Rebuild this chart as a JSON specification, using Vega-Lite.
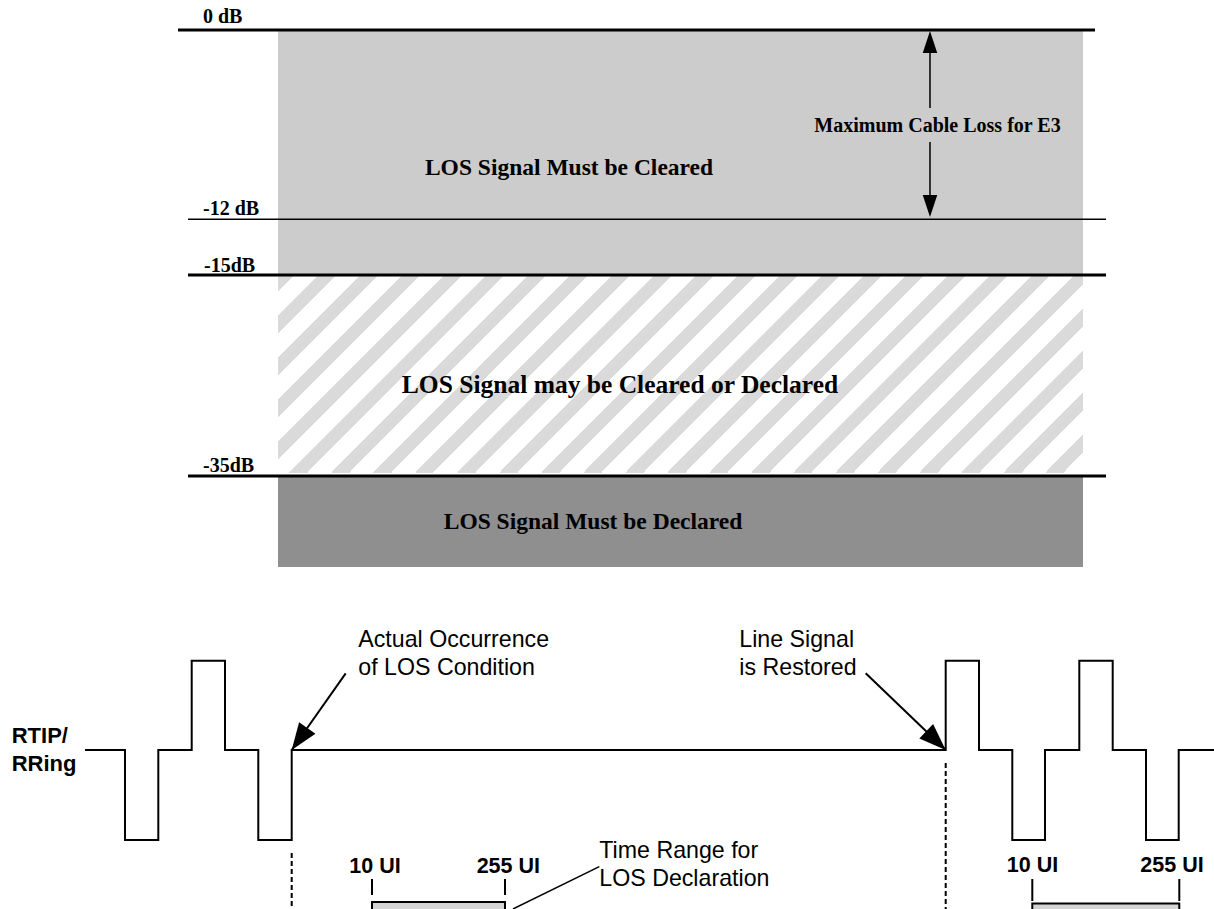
{
  "$schema": "https://vega.github.io/schema/vega-lite/v6.json",
  "width": 1214,
  "height": 909,
  "autosize": {"type": "none"},
  "padding": 0,
  "background": "white",
  "config": {"view": {"stroke": null}},
  "datasets": {
    "zones": [
      {"zone": "cleared", "x": 278, "x2": 1083, "y": 30, "y2": 274},
      {"zone": "either", "x": 278, "x2": 1083, "y": 274, "y2": 473},
      {"zone": "declared", "x": 278, "x2": 1083, "y": 477, "y2": 567}
    ],
    "lines": [
      {"kind": "thick", "x": 178, "x2": 1095, "y": 30, "y2": 30},
      {"kind": "thick", "x": 188, "x2": 1106, "y": 275, "y2": 275},
      {"kind": "thick", "x": 188, "x2": 1106, "y": 476, "y2": 476},
      {"kind": "thin", "x": 188, "x2": 1106, "y": 219.3, "y2": 219.3},
      {"kind": "thin", "x": 930, "x2": 930, "y": 45, "y2": 108},
      {"kind": "thin", "x": 930, "x2": 930, "y": 142, "y2": 203},
      {"kind": "thin", "x": 599.3, "x2": 513, "y": 866.7, "y2": 909},
      {"kind": "medium", "x": 345.7, "x2": 291.7, "y": 673.3, "y2": 750},
      {"kind": "medium", "x": 865.7, "x2": 945.7, "y": 673.3, "y2": 750},
      {"kind": "medium", "x": 372, "x2": 372, "y": 879, "y2": 895},
      {"kind": "medium", "x": 505, "x2": 505, "y": 879, "y2": 895},
      {"kind": "medium", "x": 1032.3, "x2": 1032.3, "y": 879, "y2": 901},
      {"kind": "medium", "x": 1179.3, "x2": 1179.3, "y": 879, "y2": 901},
      {"kind": "dash", "x": 291.7, "x2": 291.7, "y": 853, "y2": 909},
      {"kind": "dash", "x": 945.7, "x2": 945.7, "y": 763, "y2": 909}
    ],
    "heads": [
      {"kind": "top", "x": 930, "y": 31, "angle": 0},
      {"kind": "top", "x": 930, "y": 217, "angle": 180},
      {"kind": "bottom", "x": 291.7, "y": 750, "angle": 215.2},
      {"kind": "bottom", "x": 945.7, "y": 750, "angle": 133.8}
    ],
    "wave": [
      {"i": 1, "x": 85, "y": 750}, {"i": 2, "x": 125, "y": 750}, {"i": 3, "x": 125, "y": 840},
      {"i": 4, "x": 158.3, "y": 840}, {"i": 5, "x": 158.3, "y": 750}, {"i": 6, "x": 191.7, "y": 750},
      {"i": 7, "x": 191.7, "y": 660.7}, {"i": 8, "x": 225, "y": 660.7}, {"i": 9, "x": 225, "y": 750},
      {"i": 10, "x": 258.3, "y": 750}, {"i": 11, "x": 258.3, "y": 840}, {"i": 12, "x": 291.7, "y": 840},
      {"i": 13, "x": 291.7, "y": 750}, {"i": 14, "x": 945.7, "y": 750}, {"i": 15, "x": 945.7, "y": 660.7},
      {"i": 16, "x": 979, "y": 660.7}, {"i": 17, "x": 979, "y": 750}, {"i": 18, "x": 1012.3, "y": 750},
      {"i": 19, "x": 1012.3, "y": 840}, {"i": 20, "x": 1045, "y": 840}, {"i": 21, "x": 1045, "y": 750},
      {"i": 22, "x": 1079.3, "y": 750}, {"i": 23, "x": 1079.3, "y": 660.7}, {"i": 24, "x": 1112.7, "y": 660.7},
      {"i": 25, "x": 1112.7, "y": 750}, {"i": 26, "x": 1146, "y": 750}, {"i": 27, "x": 1146, "y": 840},
      {"i": 28, "x": 1178.7, "y": 840}, {"i": 29, "x": 1178.7, "y": 750}, {"i": 30, "x": 1216, "y": 750}
    ],
    "boxes": [
      {"x": 372, "x2": 505, "y": 902, "y2": 915},
      {"x": 1032.3, "x2": 1179.3, "y": 903.5, "y2": 915}
    ],
    "texts": [
      {"style": "level", "x": 203, "y": 22.7, "label": "0 dB"},
      {"style": "level", "x": 203, "y": 215, "label": "-12 dB"},
      {"style": "level", "x": 204, "y": 271.7, "label": "-15dB"},
      {"style": "level", "x": 203, "y": 471.7, "label": "-35dB"},
      {"style": "note", "x": 937.5, "y": 131.7, "label": "Maximum Cable Loss for E3"},
      {"style": "zone", "x": 569, "y": 175, "label": "LOS Signal Must be Cleared"},
      {"style": "zonewide", "x": 620, "y": 393, "label": "LOS Signal may be Cleared or Declared"},
      {"style": "zone", "x": 593, "y": 529, "label": "LOS Signal Must be Declared"},
      {"style": "sans", "x": 358.3, "y": 647.3, "label": "Actual Occurrence"},
      {"style": "sans", "x": 358.3, "y": 675, "label": "of LOS Condition"},
      {"style": "sans", "x": 739.3, "y": 647.3, "label": "Line Signal"},
      {"style": "sans", "x": 739.3, "y": 675, "label": "is Restored"},
      {"style": "sans", "x": 599.3, "y": 858.3, "label": "Time Range for"},
      {"style": "sans", "x": 599.3, "y": 886, "label": "LOS Declaration"},
      {"style": "signal", "x": 11.7, "y": 743.3, "label": "RTIP/"},
      {"style": "signal", "x": 11.7, "y": 771, "label": "RRing"},
      {"style": "ui", "x": 375, "y": 872.5, "label": "10 UI"},
      {"style": "ui", "x": 508.3, "y": 872.5, "label": "255 UI"},
      {"style": "ui", "x": 1032.5, "y": 872.3, "label": "10 UI"},
      {"style": "ui", "x": 1172, "y": 872.3, "label": "255 UI"}
    ]
  },
  "encoding": {
    "x": {"field": "x", "type": "quantitative", "axis": null, "scale": {"domain": [0, 1214], "nice": false, "zero": false}},
    "y": {"field": "y", "type": "quantitative", "axis": null, "scale": {"domain": [0, 909], "nice": false, "zero": false, "reverse": true}}
  },
  "layer": [
    {
      "data": {"name": "zones"},
      "transform": [{"filter": "datum.zone === 'cleared'"}],
      "mark": {"type": "rect", "color": "#cccccc"},
      "encoding": {"x2": {"field": "x2"}, "y2": {"field": "y2"}}
    },
    {
      "data": {"name": "zones"},
      "transform": [{"filter": "datum.zone === 'either'"}],
      "mark": {"type": "rect", "color": {
        "gradient": "linear", "x1": 0, "y1": 0, "x2": 1.1749, "y2": 0.28898,
        "stops": [
          {"offset": 0, "color": "#dadada"}, {"offset": 0.01695, "color": "#dadada"}, {"offset": 0.01695, "color": "#ffffff"},
          {"offset": 0.04088, "color": "#ffffff"}, {"offset": 0.04088, "color": "#dadada"}, {"offset": 0.05882, "color": "#dadada"}, {"offset": 0.05882, "color": "#ffffff"},
          {"offset": 0.08275, "color": "#ffffff"}, {"offset": 0.08275, "color": "#dadada"}, {"offset": 0.10070, "color": "#dadada"}, {"offset": 0.10070, "color": "#ffffff"},
          {"offset": 0.12463, "color": "#ffffff"}, {"offset": 0.12463, "color": "#dadada"}, {"offset": 0.14257, "color": "#dadada"}, {"offset": 0.14257, "color": "#ffffff"},
          {"offset": 0.16650, "color": "#ffffff"}, {"offset": 0.16650, "color": "#dadada"}, {"offset": 0.18445, "color": "#dadada"}, {"offset": 0.18445, "color": "#ffffff"},
          {"offset": 0.20837, "color": "#ffffff"}, {"offset": 0.20837, "color": "#dadada"}, {"offset": 0.22632, "color": "#dadada"}, {"offset": 0.22632, "color": "#ffffff"},
          {"offset": 0.25025, "color": "#ffffff"}, {"offset": 0.25025, "color": "#dadada"}, {"offset": 0.26820, "color": "#dadada"}, {"offset": 0.26820, "color": "#ffffff"},
          {"offset": 0.29212, "color": "#ffffff"}, {"offset": 0.29212, "color": "#dadada"}, {"offset": 0.31007, "color": "#dadada"}, {"offset": 0.31007, "color": "#ffffff"},
          {"offset": 0.33400, "color": "#ffffff"}, {"offset": 0.33400, "color": "#dadada"}, {"offset": 0.35194, "color": "#dadada"}, {"offset": 0.35194, "color": "#ffffff"},
          {"offset": 0.37587, "color": "#ffffff"}, {"offset": 0.37587, "color": "#dadada"}, {"offset": 0.39382, "color": "#dadada"}, {"offset": 0.39382, "color": "#ffffff"},
          {"offset": 0.41775, "color": "#ffffff"}, {"offset": 0.41775, "color": "#dadada"}, {"offset": 0.43569, "color": "#dadada"}, {"offset": 0.43569, "color": "#ffffff"},
          {"offset": 0.45962, "color": "#ffffff"}, {"offset": 0.45962, "color": "#dadada"}, {"offset": 0.47757, "color": "#dadada"}, {"offset": 0.47757, "color": "#ffffff"},
          {"offset": 0.50150, "color": "#ffffff"}, {"offset": 0.50150, "color": "#dadada"}, {"offset": 0.51944, "color": "#dadada"}, {"offset": 0.51944, "color": "#ffffff"},
          {"offset": 0.54337, "color": "#ffffff"}, {"offset": 0.54337, "color": "#dadada"}, {"offset": 0.56132, "color": "#dadada"}, {"offset": 0.56132, "color": "#ffffff"},
          {"offset": 0.58524, "color": "#ffffff"}, {"offset": 0.58524, "color": "#dadada"}, {"offset": 0.60319, "color": "#dadada"}, {"offset": 0.60319, "color": "#ffffff"},
          {"offset": 0.62712, "color": "#ffffff"}, {"offset": 0.62712, "color": "#dadada"}, {"offset": 0.64506, "color": "#dadada"}, {"offset": 0.64506, "color": "#ffffff"},
          {"offset": 0.66899, "color": "#ffffff"}, {"offset": 0.66899, "color": "#dadada"}, {"offset": 0.68694, "color": "#dadada"}, {"offset": 0.68694, "color": "#ffffff"},
          {"offset": 0.71087, "color": "#ffffff"}, {"offset": 0.71087, "color": "#dadada"}, {"offset": 0.72881, "color": "#dadada"}, {"offset": 0.72881, "color": "#ffffff"},
          {"offset": 0.75274, "color": "#ffffff"}, {"offset": 0.75274, "color": "#dadada"}, {"offset": 0.77069, "color": "#dadada"}, {"offset": 0.77069, "color": "#ffffff"},
          {"offset": 0.79462, "color": "#ffffff"}, {"offset": 0.79462, "color": "#dadada"}, {"offset": 0.81256, "color": "#dadada"}, {"offset": 0.81256, "color": "#ffffff"},
          {"offset": 0.83649, "color": "#ffffff"}, {"offset": 0.83649, "color": "#dadada"}, {"offset": 0.85444, "color": "#dadada"}, {"offset": 0.85444, "color": "#ffffff"},
          {"offset": 0.87836, "color": "#ffffff"}, {"offset": 0.87836, "color": "#dadada"}, {"offset": 0.89631, "color": "#dadada"}, {"offset": 0.89631, "color": "#ffffff"},
          {"offset": 0.92024, "color": "#ffffff"}, {"offset": 0.92024, "color": "#dadada"}, {"offset": 0.93819, "color": "#dadada"}, {"offset": 0.93819, "color": "#ffffff"},
          {"offset": 0.96211, "color": "#ffffff"}, {"offset": 0.96211, "color": "#dadada"}, {"offset": 0.98006, "color": "#dadada"}, {"offset": 0.98006, "color": "#ffffff"},
          {"offset": 1, "color": "#ffffff"}
        ]}},
      "encoding": {"x2": {"field": "x2"}, "y2": {"field": "y2"}}
    },
    {
      "data": {"name": "zones"},
      "transform": [{"filter": "datum.zone === 'declared'"}],
      "mark": {"type": "rect", "color": "#8f8f8f"},
      "encoding": {"x2": {"field": "x2"}, "y2": {"field": "y2"}}
    },
    {
      "data": {"name": "boxes"},
      "mark": {"type": "rect", "fill": "#d4d4d4", "stroke": "black", "strokeWidth": 2},
      "encoding": {"x2": {"field": "x2"}, "y2": {"field": "y2"}}
    },
    {
      "data": {"name": "lines"},
      "transform": [{"filter": "datum.kind === 'thick'"}],
      "mark": {"type": "rule", "color": "black", "strokeWidth": 3},
      "encoding": {"x2": {"field": "x2"}, "y2": {"field": "y2"}}
    },
    {
      "data": {"name": "lines"},
      "transform": [{"filter": "datum.kind === 'thin'"}],
      "mark": {"type": "rule", "color": "black", "strokeWidth": 1.5},
      "encoding": {"x2": {"field": "x2"}, "y2": {"field": "y2"}}
    },
    {
      "data": {"name": "lines"},
      "transform": [{"filter": "datum.kind === 'medium'"}],
      "mark": {"type": "rule", "color": "black", "strokeWidth": 2},
      "encoding": {"x2": {"field": "x2"}, "y2": {"field": "y2"}}
    },
    {
      "data": {"name": "lines"},
      "transform": [{"filter": "datum.kind === 'dash'"}],
      "mark": {"type": "rule", "color": "black", "strokeWidth": 2, "strokeDash": [5, 3]},
      "encoding": {"x2": {"field": "x2"}, "y2": {"field": "y2"}}
    },
    {
      "data": {"name": "wave"},
      "mark": {"type": "line", "color": "black", "strokeWidth": 2, "strokeJoin": "miter", "interpolate": "linear"},
      "encoding": {"order": {"field": "i", "type": "quantitative"}}
    },
    {
      "data": {"name": "heads"},
      "transform": [{"filter": "datum.kind === 'top'"}],
      "mark": {"type": "point", "shape": "M0,0L0.33,1L-0.33,1Z", "filled": true, "color": "black", "opacity": 1, "size": 1936, "strokeWidth": 0},
      "encoding": {"angle": {"field": "angle", "type": "quantitative", "scale": null}}
    },
    {
      "data": {"name": "heads"},
      "transform": [{"filter": "datum.kind === 'bottom'"}],
      "mark": {"type": "point", "shape": "M0,0L0.37,1L-0.37,1Z", "filled": true, "color": "black", "opacity": 1, "size": 2916, "strokeWidth": 0},
      "encoding": {"angle": {"field": "angle", "type": "quantitative", "scale": null}}
    },
    {
      "data": {"name": "texts"},
      "transform": [{"filter": "datum.style === 'level'"}],
      "mark": {"type": "text", "font": "Liberation Serif", "fontWeight": "bold", "fontSize": 20, "align": "left", "baseline": "alphabetic", "color": "black"},
      "encoding": {"text": {"field": "label"}}
    },
    {
      "data": {"name": "texts"},
      "transform": [{"filter": "datum.style === 'note'"}],
      "mark": {"type": "text", "font": "Liberation Serif", "fontWeight": "bold", "fontSize": 20, "align": "center", "baseline": "alphabetic", "color": "black"},
      "encoding": {"text": {"field": "label"}}
    },
    {
      "data": {"name": "texts"},
      "transform": [{"filter": "datum.style === 'zone'"}],
      "mark": {"type": "text", "font": "Liberation Serif", "fontWeight": "bold", "fontSize": 23.5, "align": "center", "baseline": "alphabetic", "color": "black"},
      "encoding": {"text": {"field": "label"}}
    },
    {
      "data": {"name": "texts"},
      "transform": [{"filter": "datum.style === 'zonewide'"}],
      "mark": {"type": "text", "font": "Liberation Serif", "fontWeight": "bold", "fontSize": 25.5, "align": "center", "baseline": "alphabetic", "color": "black"},
      "encoding": {"text": {"field": "label"}}
    },
    {
      "data": {"name": "texts"},
      "transform": [{"filter": "datum.style === 'sans'"}],
      "mark": {"type": "text", "font": "Liberation Sans", "fontSize": 23.2, "align": "left", "baseline": "alphabetic", "color": "black"},
      "encoding": {"text": {"field": "label"}}
    },
    {
      "data": {"name": "texts"},
      "transform": [{"filter": "datum.style === 'signal'"}],
      "mark": {"type": "text", "font": "Liberation Sans", "fontWeight": "bold", "fontSize": 22, "align": "left", "baseline": "alphabetic", "color": "black"},
      "encoding": {"text": {"field": "label"}}
    },
    {
      "data": {"name": "texts"},
      "transform": [{"filter": "datum.style === 'ui'"}],
      "mark": {"type": "text", "font": "Liberation Sans", "fontWeight": "bold", "fontSize": 21.5, "align": "center", "baseline": "alphabetic", "color": "black"},
      "encoding": {"text": {"field": "label"}}
    }
  ]
}
